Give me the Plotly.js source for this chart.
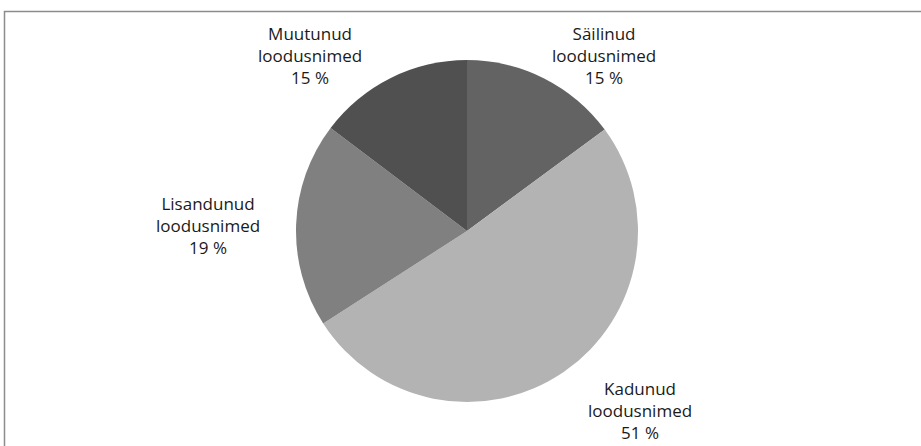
<!DOCTYPE html>
<html>
<head>
<meta charset="utf-8">
<script src="https://cdn.plot.ly/plotly-3.0.1.min.js"></script>
<style>html,body{margin:0;padding:0;background:#fff;}#chart{width:921px;height:446px;}</style>
</head>
<body>
<div id="chart"></div>
<script>
const categories = ["Säilinud loodusnimed", "Kadunud loodusnimed", "Lisandunud loodusnimed", "Muutunud loodusnimed"];
const labelLines = [["Säilinud", "loodusnimed"], ["Kadunud", "loodusnimed"], ["Lisandunud", "loodusnimed"], ["Muutunud", "loodusnimed"]];
const values = [14.9, 51.0, 19.4, 14.7];
const percentLabels = ["15 %", "51 %", "19 %", "15 %"];
const colors = ["#636363", "#b3b3b3", "#808080", "#505050"];

const W = 921, H = 446;
const cx = 467, cy = 231, R = 171;
const labelPos = [[604, 55], [640, 410], [208, 225], [310, 55]];
const FONT = {family: "Open Sans, sans-serif", size: 17, color: "#1a1a1a"};

const trace = {
  type: "pie",
  labels: categories,
  values: values,
  sort: false,
  direction: "clockwise",
  rotation: 0,
  marker: {colors: colors, line: {width: 0}},
  textinfo: "none",
  hoverinfo: "label+percent",
  domain: {x: [(cx - R) / W, (cx + R) / W], y: [(H - cy - R) / H, (H - cy + R) / H]}
};

const annotations = categories.map((c, i) => ({
  xref: "paper", yref: "paper",
  x: labelPos[i][0] / W, y: 1 - labelPos[i][1] / H,
  xanchor: "center", yanchor: "middle",
  text: labelLines[i].join("<br>") + "<br>" + percentLabels[i],
  showarrow: false, align: "center",
  font: FONT
}));

const layout = {
  width: W, height: H,
  margin: {l: 0, r: 0, t: 0, b: 0},
  paper_bgcolor: "#ffffff",
  showlegend: false,
  annotations: annotations,
  shapes: [{
    type: "rect", xref: "paper", yref: "paper",
    x0: 4.5 / W, x1: 1.05, y0: -0.05, y1: 1 - 11.5 / H,
    line: {color: "#8c8c8c", width: 1.5}, fillcolor: "rgba(0,0,0,0)"
  }]
};

Plotly.newPlot("chart", [trace], layout, {displayModeBar: false, staticPlot: true});
</script>
</body>
</html>
